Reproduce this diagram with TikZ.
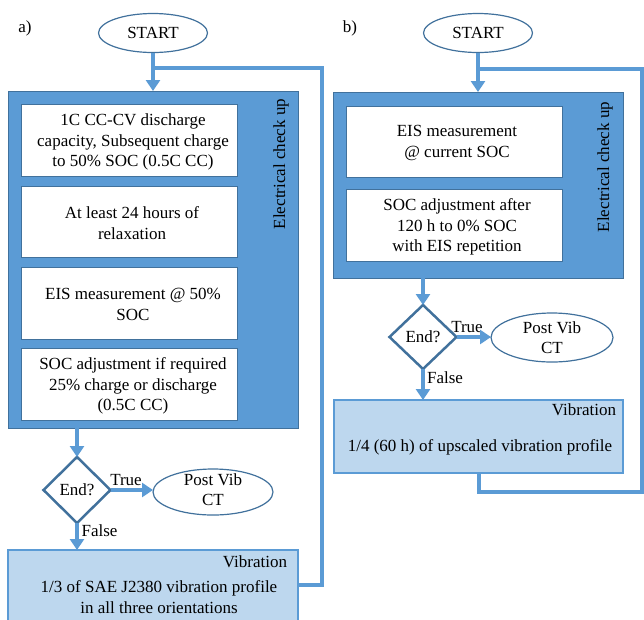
\documentclass[tikz,border=0pt]{standalone}
\usepackage{fontspec}
\setmainfont{Liberation Serif}
\usetikzlibrary{arrows.meta,shapes.geometric}
\definecolor{cuBlue}{HTML}{5B9BD5}
\definecolor{cuEdge}{HTML}{41719C}
\definecolor{vibFill}{HTML}{BDD7EE}
\begin{document}
\begin{tikzpicture}[x=1pt,y=-1pt,
  font=\fontsize{17}{20.3}\selectfont,
  every node/.style={inner sep=0pt, outer sep=0pt},
  flow/.style={draw=cuBlue, line width=4pt, line join=miter},
  flowarrow/.style={flow, -{Triangle[width=14pt,length=11pt]}},
  terminal/.style={ellipse, draw=cuEdge, line width=1.2pt, fill=white},
  checkup/.style={draw=cuEdge, line width=1pt, fill=cuBlue},
  stepbox/.style={draw=cuEdge, line width=0.8pt, fill=white, align=center, minimum width=216pt},
  decision/.style={diamond, draw=cuEdge, line width=2.5pt, fill=white, aspect=1},
  vibbox/.style={draw=cuBlue, line width=1.2pt, fill=vibFill},
  sidelabel/.style={rotate=90},
]
\useasboundingbox (0,0) rectangle (644,619);

% ---------------- a) ----------------
\node (labA) at (25,28) {a)};
\node[terminal, minimum width=109pt, minimum height=39pt] (startA) at (153,33) {START};
\node[checkup, minimum width=290pt, minimum height=337pt] (checkA) at (153,259.5) {};
\node[stepbox, minimum height=72pt] (a1) at (129,140) {};
\node[align=center] (a1txt) at (133,142)
  {1C CC-CV discharge\\capacity, Subsequent charge\\to 50\% SOC (0.5C CC)};
\node[stepbox, minimum height=71pt] (a2) at (129,221.5) {};
\node[align=center] (a2txt) at (132,223) {At least 24 hours of\\relaxation};
\node[stepbox, minimum height=72pt] (a3) at (129,303) {};
\node[align=center] (a3txt) at (133,304.5) {EIS measurement @ 50\%\\SOC};
\node[stepbox, minimum height=72pt] (a4) at (129,384) {};
\node[align=center] (a4txt) at (133,386)
  {SOC adjustment if required\\25\% charge or discharge\\(0.5C CC)};
\node[sidelabel] (ecuA) at (281,164) {Electrical check up};

\node[decision, minimum width=67pt, minimum height=66pt] (decA) at (77,490) {End?};
\node[terminal, minimum width=120pt, minimum height=46pt] (postA) at (213,492) {};
\node[align=center] (postAtxt) at (213,490) {Post Vib\\CT};
\node (trueA) at (126,480) {True};
\node (falseA) at (99.5,531) {False};

\node[vibbox, minimum width=290pt, minimum height=75pt] (vibA) at (153,587.5) {};
\node[anchor=east] (vibAtitle) at (287,562) {Vibration};
\node[align=center] (vibAtxt) at (159,597)
  {1/3 of SAE J2380 vibration profile\\in all three orientations};

\coordinate (jA) at (153,68);
\coordinate (cA) at (322,68);
\coordinate (eA) at (298,585);

\draw[flow] (eA) -| (cA) -- (jA);
\draw[flowarrow] (startA.south) -- (checkA.north);
\draw[flowarrow] (checkA.south -| decA.north) -- (decA.north);
\draw[flowarrow] (decA.east) -- (decA.east -| postA.west);
\draw[flowarrow] (decA.south) -- (decA.south |- vibA.north);

% ---------------- b) ----------------
\node (labB) at (350,28) {b)};
\node[terminal, minimum width=109pt, minimum height=39pt] (startB) at (478,33) {START};
\node[checkup, minimum width=290pt, minimum height=186pt] (checkB) at (478,185) {};
\node[stepbox, minimum height=71pt] (b1) at (454,141.5) {};
\node[align=center] (b1txt) at (457,143) {EIS measurement\\@ current SOC};
\node[stepbox, minimum height=72pt] (b2) at (454,225) {};
\node[align=center] (b2txt) at (457,227)
  {SOC adjustment after\\120 h to 0\% SOC\\with EIS repetition};
\node[sidelabel] (ecuB) at (605,167) {Electrical check up};

\node[decision, minimum width=67pt, minimum height=64pt] (decB) at (423,337) {End?};
\node[terminal, minimum width=122pt, minimum height=49pt] (postB) at (552,337.5) {};
\node[align=center] (postBtxt) at (552,338) {Post Vib\\CT};
\node (trueB) at (467,327) {True};
\node (falseB) at (445,378) {False};

\node[vibbox, minimum width=289pt, minimum height=73pt] (vibB) at (478.5,436.5) {};
\node[anchor=east] (vibBtitle) at (616,410) {Vibration};
\node (vibBtxt) at (480,447) {1/4 (60 h) of upscaled vibration profile};

\coordinate (jB) at (478,69);
\coordinate (cB) at (642,69);
\coordinate (dB) at (642,492);

\draw[flow] (vibB.south -| 479,0) |- (dB) -- (cB) -- (jB);
\draw[flowarrow] (startB.south) -- (checkB.north);
\draw[flowarrow] (checkB.south -| decB.north) -- (decB.north);
\draw[flowarrow] (decB.east) -- (decB.east -| postB.west);
\draw[flowarrow] (decB.south) -- (decB.south |- vibB.north);
\end{tikzpicture}
\end{document}
